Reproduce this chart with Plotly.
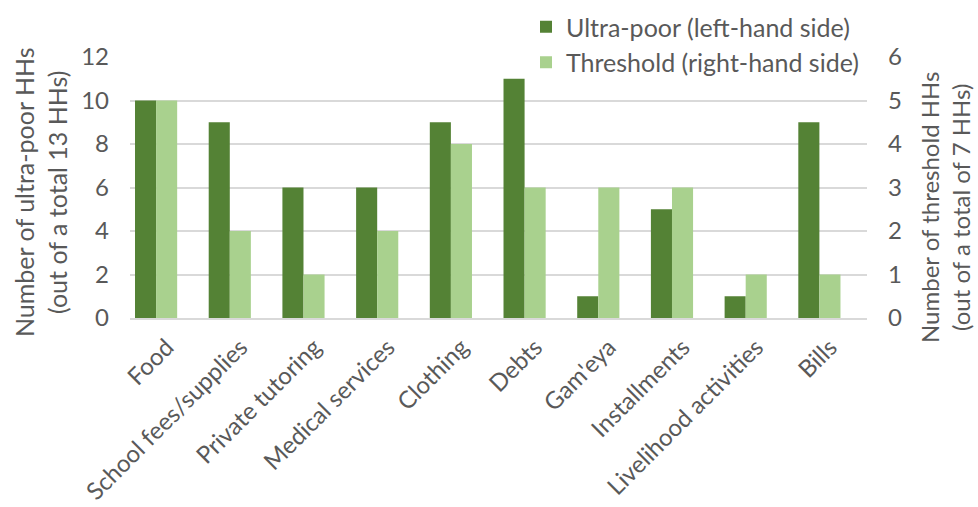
import plotly.graph_objects as go

categories = ["Food", "School fees/supplies", "Private tutoring", "Medical services",
              "Clothing", "Debts", "Gam'eya", "Installments", "Livelihood activities", "Bills"]
ultra_poor = [10, 9, 6, 6, 9, 11, 1, 5, 1, 9]
threshold = [5, 2, 1, 2, 4, 3, 3, 3, 1, 1]

left_ticks = [0, 2, 4, 6, 8, 10, 12]
right_ticks = [0, 1, 2, 3, 4, 5, 6]

left_title = "Number of ultra-poor HHs<br>(out of a total 13 HHs)"
right_title = "Number of threshold HHs<br>(out of a total of 7 HHs)"

TXT = "#595959"
FONT = "Lato"
BAR_W = 0.286  # bar width in category units

# page size and plot-area edges in pixels
W, H = 978, 507
PL, PR, PT, PB = 130, 867, 57, 318


def fx(px):
    return px / W


def fy(py):
    return (H - py) / H


fig = go.Figure()
fig.add_trace(go.Bar(x=categories, y=ultra_poor, name="Ultra-poor (left-hand side)",
                     marker=dict(color="#548235", line=dict(width=0)),
                     width=BAR_W, offset=-0.432, yaxis="y"))
fig.add_trace(go.Bar(x=categories, y=threshold, name="Threshold (right-hand side)",
                     marker=dict(color="#A9D18E", line=dict(width=0)),
                     width=BAR_W, offset=-0.146, yaxis="y2"))

fig.update_layout(
    width=W, height=H,
    margin=dict(l=0, r=0, t=0, b=0, autoexpand=False),
    paper_bgcolor="white", plot_bgcolor="white",
    font=dict(family=FONT, color=TXT, size=24),
    barmode="overlay",
    xaxis=dict(domain=[fx(PL), fx(PR)], tickangle=-45, showline=True,
               linecolor="#D9D9D9", linewidth=1.5, ticks="",
               tickfont=dict(size=24, color=TXT), ticklabelstandoff=4, automargin=False),
    yaxis=dict(domain=[fy(PB), fy(PT)], range=[0, 12], tickvals=left_ticks,
               showgrid=True, gridcolor="#D9D9D9", gridwidth=1.5, zeroline=False,
               ticks="", tickfont=dict(size=24, color=TXT), ticklabelstandoff=20,
               automargin=False),
    yaxis2=dict(range=[0, 6], tickvals=right_ticks, overlaying="y", side="right",
                showgrid=False, zeroline=False, ticks="", tickfont=dict(size=24, color=TXT),
                ticklabelstandoff=20, automargin=False),
    legend=dict(x=fx(526), y=fy(4), xanchor="left", yanchor="top", bgcolor="white",
                font=dict(size=25, color=TXT), tracegroupgap=0),
    annotations=[
        dict(text=left_title, textangle=-90, xref="paper", yref="paper",
             x=fx(40), y=fy(192), xanchor="center", yanchor="middle",
             showarrow=False, font=dict(size=25, color=TXT)),
        dict(text=right_title, textangle=-90, xref="paper", yref="paper",
             x=fx(945), y=fy(208), xanchor="center", yanchor="middle",
             showarrow=False, font=dict(size=24, color=TXT)),
    ],
)

fig.write_html("out.html")
